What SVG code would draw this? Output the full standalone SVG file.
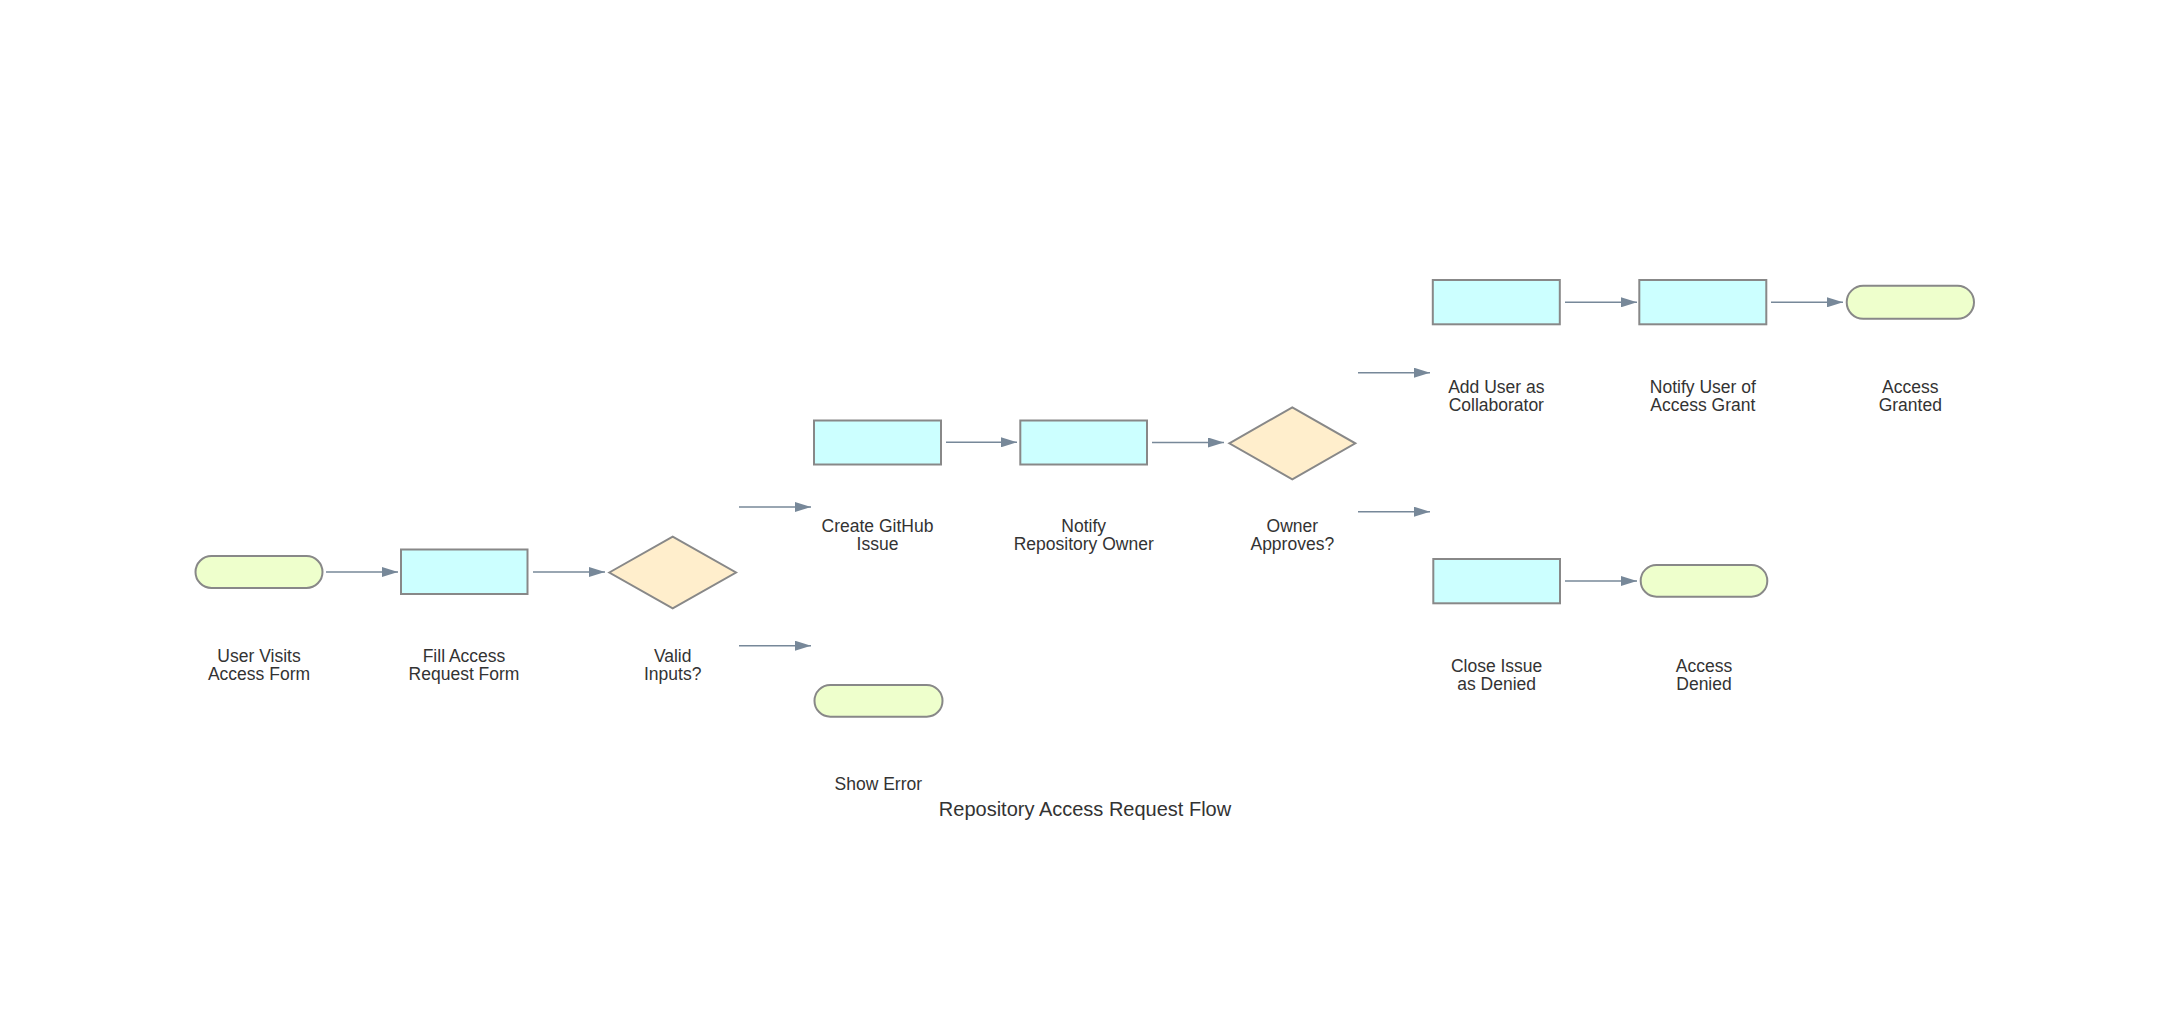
<svg xmlns="http://www.w3.org/2000/svg" width="2170" height="1016" viewBox="0 0 2170 1016">
<style>
.proc{fill:#ccffff;stroke:#888888;stroke-width:2}
.term{fill:#eeffcc;stroke:#888888;stroke-width:2}
.dec{fill:#ffeecc;stroke:#888888;stroke-width:2}
.edge{stroke:#778899;stroke-width:1.6;fill:none;marker-end:url(#arrow)}
.lbl{font-family:"Liberation Sans",Arial,sans-serif;font-size:17.5px;fill:#333333;text-anchor:middle}
.title{font-family:"Liberation Sans",Arial,sans-serif;font-size:20px;fill:#333333;text-anchor:middle}
</style>
<defs>
<marker id="arrow" markerUnits="userSpaceOnUse" markerWidth="16" markerHeight="10" refX="16" refY="5" orient="auto">
<path d="M0,0 L16,5 L0,10 z" fill="#778899"/>
</marker>
</defs>
<rect width="2170" height="1016" fill="#ffffff"/>
<g id="connectors">
<line class="edge" x1="326" y1="572" x2="398" y2="572"/>
<line class="edge" x1="533" y1="572" x2="605" y2="572"/>
<line class="edge" x1="739" y1="507" x2="811" y2="507"/>
<line class="edge" x1="739" y1="645.7" x2="811" y2="645.7"/>
<line class="edge" x1="946" y1="442.3" x2="1017" y2="442.3"/>
<line class="edge" x1="1152" y1="442.5" x2="1224" y2="442.5"/>
<line class="edge" x1="1358" y1="372.7" x2="1430" y2="372.7"/>
<line class="edge" x1="1358" y1="511.7" x2="1430" y2="511.7"/>
<line class="edge" x1="1565" y1="302.3" x2="1637" y2="302.3"/>
<line class="edge" x1="1771" y1="302.3" x2="1843" y2="302.3"/>
<line class="edge" x1="1565" y1="581" x2="1637" y2="581"/>
</g>
<g id="node-start">
<rect class="term" x="195.5" y="556" width="127" height="32" rx="16"/>
<text class="lbl" x="259" y="662">User Visits</text>
<text class="lbl" x="259" y="679.5">Access Form</text>
</g>
<g id="node-fill">
<rect class="proc" x="401" y="549.5" width="126.5" height="44.5"/>
<text class="lbl" x="464" y="662">Fill Access</text>
<text class="lbl" x="464" y="679.5">Request Form</text>
</g>
<g id="node-valid">
<polygon class="dec" points="609.3,572.5 672.7,536.7 736,572.5 672.7,608.3"/>
<text class="lbl" x="672.7" y="662">Valid</text>
<text class="lbl" x="672.7" y="679.5">Inputs?</text>
</g>
<g id="node-create">
<rect class="proc" x="814" y="420.5" width="127" height="44"/>
<text class="lbl" x="877.5" y="532.3">Create GitHub</text>
<text class="lbl" x="877.5" y="550">Issue</text>
</g>
<g id="node-notify-owner">
<rect class="proc" x="1020.3" y="420.5" width="126.7" height="44"/>
<text class="lbl" x="1083.7" y="532.3">Notify</text>
<text class="lbl" x="1083.7" y="550">Repository Owner</text>
</g>
<g id="node-owner">
<polygon class="dec" points="1229.3,443.3 1292.3,407.3 1355.3,443.3 1292.3,479.3"/>
<text class="lbl" x="1292.3" y="532.3">Owner</text>
<text class="lbl" x="1292.3" y="550">Approves?</text>
</g>
<g id="node-add-user">
<rect class="proc" x="1432.8" y="280" width="127" height="44.3"/>
<text class="lbl" x="1496.3" y="392.7">Add User as</text>
<text class="lbl" x="1496.3" y="410.5">Collaborator</text>
</g>
<g id="node-notify-user">
<rect class="proc" x="1639.3" y="280" width="127" height="44.3"/>
<text class="lbl" x="1702.8" y="392.7">Notify User of</text>
<text class="lbl" x="1702.8" y="410.5">Access Grant</text>
</g>
<g id="node-granted">
<rect class="term" x="1846.7" y="285.8" width="127.3" height="33" rx="16.5"/>
<text class="lbl" x="1910.3" y="392.7">Access</text>
<text class="lbl" x="1910.3" y="410.5">Granted</text>
</g>
<g id="node-close">
<rect class="proc" x="1433.3" y="559" width="126.7" height="44.3"/>
<text class="lbl" x="1496.6" y="671.7">Close Issue</text>
<text class="lbl" x="1496.6" y="689.5">as Denied</text>
</g>
<g id="node-denied">
<rect class="term" x="1640.7" y="565" width="126.6" height="31.7" rx="15.8"/>
<text class="lbl" x="1704" y="671.7">Access</text>
<text class="lbl" x="1704" y="689.5">Denied</text>
</g>
<g id="node-error">
<rect class="term" x="814.5" y="685" width="128" height="31.7" rx="15.8"/>
<text class="lbl" x="878.3" y="790">Show Error</text>
</g>
<text class="title" x="1085" y="816">Repository Access Request Flow</text>
</svg>
